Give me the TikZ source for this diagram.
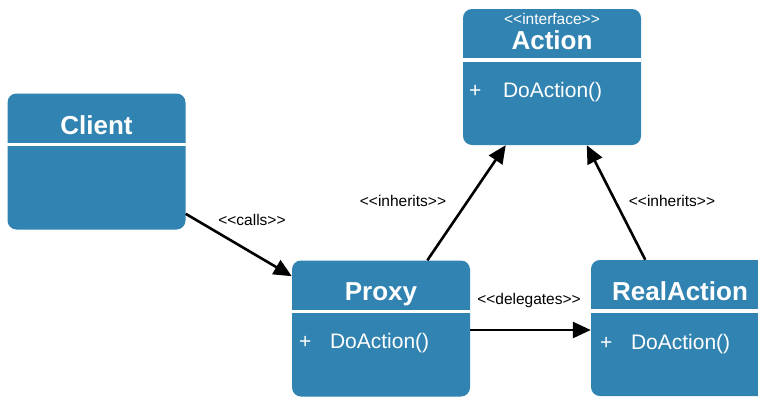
\documentclass[tikz,border=0pt]{standalone}
\usepackage{fontspec}
\setmainfont{Liberation Sans}[Ligatures=TeXOff]
\usetikzlibrary{arrows.meta,calc}
\definecolor{boxblue}{RGB}{49,131,177}
\tikzset{
  umlbox/.style={fill=boxblue, draw=none, rounded corners=9pt, minimum width=178pt, minimum height=136pt, inner sep=0pt},
  sepline/.style={white, line width=3.5pt},
  titletext/.style={text=white, font=\fontsize{26}{28}\selectfont\bfseries, anchor=base, inner sep=0pt},
  stereo/.style={text=white, font=\fontsize{15.5}{17}\selectfont, anchor=base, inner sep=0pt},
  optext/.style={text=white, font=\fontsize{21}{23}\selectfont, anchor=base west, inner sep=0pt},
  conn/.style={line width=2.6pt, -{Triangle[length=18pt,width=16pt]}},
  lbl/.style={font=\fontsize{15.5}{17}\selectfont, inner sep=0pt}
}
\begin{document}
\begin{tikzpicture}[x=1pt,y=-1pt]
\useasboundingbox (0,0) rectangle (758,397);
\clip (0,0) rectangle (758,397);
\fill[white] (0,0) rectangle (758,397);
% boxes
\node[umlbox] (action) at (552,77) {};
\node[umlbox] (client) at (96.5,161.5) {};
\node[umlbox] (proxy) at (381,328.5) {};
\node[umlbox] (real) at (680,328) {};
% separators
\foreach \b in {action,client,proxy,real}{
  \draw[sepline] ($(\b.north west)+(0,51)$) -- ($(\b.north east)+(0,51)$);
}
% titles
\node[stereo] (actionstereo) at ($(action.north)+(0,16)$) {<<interface>>};
\node[titletext] (actiontitle) at ($(action.north)+(0,41)$) {Action};
\node[titletext] (clienttitle) at ($(client.north)+(0,41)$) {Client};
\node[titletext] (proxytitle) at ($(proxy.north)+(0,40.5)$) {Proxy};
\node[titletext] (realtitle) at ($(real.north)+(0,41)$) {RealAction};
% operations
\node[optext] (actionplus) at ($(action.north west)+(6,88.5)$) {+};
\node[optext] (actionop) at ($(action.north west)+(40,88.5)$) {DoAction()};
\node[optext] (proxyplus) at ($(proxy.north west)+(7,88.5)$) {+};
\node[optext] (proxyop) at ($(proxy.north west)+(38,88.5)$) {DoAction()};
\node[optext] (realplus) at ($(real.north west)+(9,89.5)$) {+};
\node[optext] (realop) at ($(real.north west)+(40,89.5)$) {DoAction()};
% connectors
\draw[conn] (client) -- (proxy);
\draw[conn] (proxy) -- (action);
\draw[conn] (real) -- (action);
\draw[conn] (proxy.east |- 0,330) -- (real.west |- 0,330);
% labels
\node[lbl] (lcalls) at (252,220) {<<calls>>};
\node[lbl] (linh1) at (403,201) {<<inherits>>};
\node[lbl] (linh2) at (672,201) {<<inherits>>};
\node[lbl] (ldel) at (529,300) {<<delegates>>};
\end{tikzpicture}
\end{document}
